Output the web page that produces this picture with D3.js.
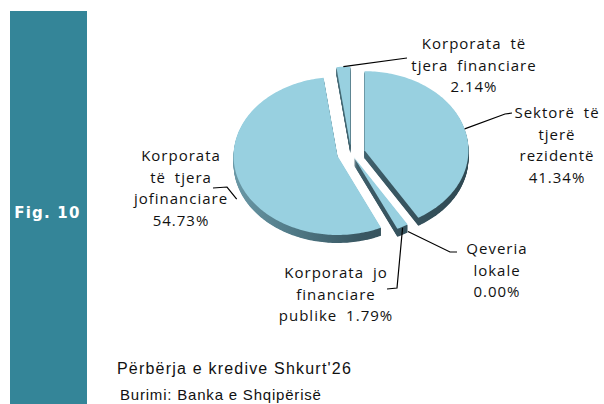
<!DOCTYPE html>
<html>
<head>
<meta charset="utf-8">
<script src="https://cdn.jsdelivr.net/npm/d3@7/dist/d3.min.js"></script>
<style>
  html, body { margin: 0; padding: 0; background: #fff; }
  svg { display: block; }
</style>
</head>
<body>
<svg id="chart" width="604" height="404"></svg>
<script>
// ---- data ----
const categories = [
  "Sektorë të tjerë rezidentë",
  "Qeveria lokale",
  "Korporata jo financiare publike",
  "Korporata të tjera jofinanciare",
  "Korporata të tjera financiare"
];
const values = [41.34, 0.00, 1.79, 54.73, 2.14];
const labelLines = [
  ["Sektorë të", "tjerë", "rezidentë"],
  ["Qeveria", "lokale"],
  ["Korporata jo", "financiare", "publike"],
  ["Korporata", "të tjera", "jofinanciare"],
  ["Korporata të", "tjera financiare"]
];
const pctInline = [false, false, true, false, false];
const title = "Përbërja e kredive Shkurt'26";
const source = "Burimi: Banka e Shqipërisë";
const figLabel = "Fig. 10";

// ---- layout / style ----
const W = 604, H = 404;
const cx = 351, cy = 153, rx = 104, ry = 79, depth = 8;
const explode = [14, 6, 6, 14, 10];
const labelPos = [
  {x: 557, y: 118}, {x: 497, y: 254}, {x: 336, y: 278}, {x: 181, y: 161}, {x: 474, y: 49}
];
const lineH = 21.7;
const leaderStartDy = [0, 7, 1, 21, 0];
const leaderStartDx = [0, 0, 0, -1, 0];
const leaderTail = [
  [[505, 114], [512, 113]],
  [[450, 252], [457, 252]],
  [[397, 288], [387, 289]],
  [[227, 187], [213, 188]],
  [[407, 58]]
];

const svg = d3.select("#chart");
const defs = svg.append("defs");

// left panel
svg.append("rect").attr("x", 10).attr("y", 11).attr("width", 77).attr("height", H - 11)
  .attr("fill", "#348598");
svg.append("text").attr("x", 47.5).attr("y", 218).attr("text-anchor", "middle")
  .attr("font-family", "DejaVu Sans").attr("font-weight", "bold").attr("font-size", 15)
  .attr("letter-spacing", 1.2).attr("fill", "#fff").text(figLabel);

// side gradient (in each slice's local coordinates)
const sideG = defs.append("linearGradient").attr("id", "sideG")
  .attr("gradientUnits", "userSpaceOnUse").attr("x1", -rx).attr("x2", rx).attr("y1", 0).attr("y2", 0);
sideG.append("stop").attr("offset", 0).attr("stop-color", "#6a98a6");
sideG.append("stop").attr("offset", 0.3).attr("stop-color", "#4f7885");
sideG.append("stop").attr("offset", 0.6).attr("stop-color", "#3a5863");
sideG.append("stop").attr("offset", 1).attr("stop-color", "#2f4852");

// pie angles via d3.pie
const pie = d3.pie().sort(null).value(d => d).startAngle(0).endAngle(2 * Math.PI);
const arcs = pie(values);

const px = a => rx * Math.sin(a);
const py = a => -ry * Math.cos(a);
const line = d3.line();

function slicePath(a0, a1) {
  const n = Math.max(2, Math.ceil((a1 - a0) / 0.02));
  const pts = [[0, 0]];
  d3.range(n + 1).forEach(i => {
    const a = a0 + (a1 - a0) * i / n;
    pts.push([px(a), py(a)]);
  });
  return line(pts) + "Z";
}

const slices = arcs.map((d, i) => {
  const m = (d.startAngle + d.endAngle) / 2;
  const e = explode[i];
  const ox = cx + e * Math.sin(m);
  const oy = cy - e * Math.cos(m) * (ry / rx);
  return {d, i, m, ox, oy};
});

const pieG = svg.append("g");
slices.slice().sort((a, b) => a.oy - b.oy).forEach(s => {
  if (s.d.endAngle - s.d.startAngle <= 0) return;
  const g = pieG.append("g").attr("transform", `translate(${s.ox},${s.oy})`);
  const p = slicePath(s.d.startAngle, s.d.endAngle);
  for (let k = depth; k >= 1; k -= 0.5) {
    g.append("path").attr("d", p).attr("transform", `translate(0,${k})`)
      .attr("fill", "url(#sideG)");
  }
  g.append("path").attr("d", p).attr("fill", "#98d0e0");
});

// leader lines
const leadG = svg.append("g").attr("fill", "none").attr("stroke", "#000").attr("stroke-width", 1.2);
slices.forEach(s => {
  const sx = s.ox + px(s.m) + leaderStartDx[s.i], sy = s.oy + py(s.m) + leaderStartDy[s.i];
  const pts = [[sx, sy]].concat(leaderTail[s.i]);
  leadG.append("path").attr("d", line(pts));
});

// labels
const fmt = v => v.toFixed(2) + "%";
const labG = svg.append("g").attr("font-family", "Open Sans").attr("font-size", 15)
  .attr("letter-spacing", 1.0).attr("word-spacing", 4).attr("fill", "#111").attr("text-anchor", "middle");
slices.forEach(s => {
  const lines = labelLines[s.i].slice();
  if (pctInline[s.i]) lines[lines.length - 1] += " " + fmt(values[s.i]);
  else lines.push(fmt(values[s.i]));
  const t = labG.append("text").attr("x", labelPos[s.i].x).attr("y", labelPos[s.i].y);
  lines.forEach((l, j) => {
    t.append("tspan").attr("x", labelPos[s.i].x).attr("y", labelPos[s.i].y + j * lineH).text(l);
  });
});

// title + source
svg.append("text").attr("x", 117).attr("y", 374).attr("font-family", "Liberation Sans")
  .attr("font-size", 16).attr("letter-spacing", 1.2).attr("fill", "#111").text(title);
svg.append("text").attr("x", 120).attr("y", 400).attr("font-family", "Liberation Sans")
  .attr("font-size", 15).attr("letter-spacing", 0.8).attr("fill", "#111").text(source);
</script>
</body>
</html>
